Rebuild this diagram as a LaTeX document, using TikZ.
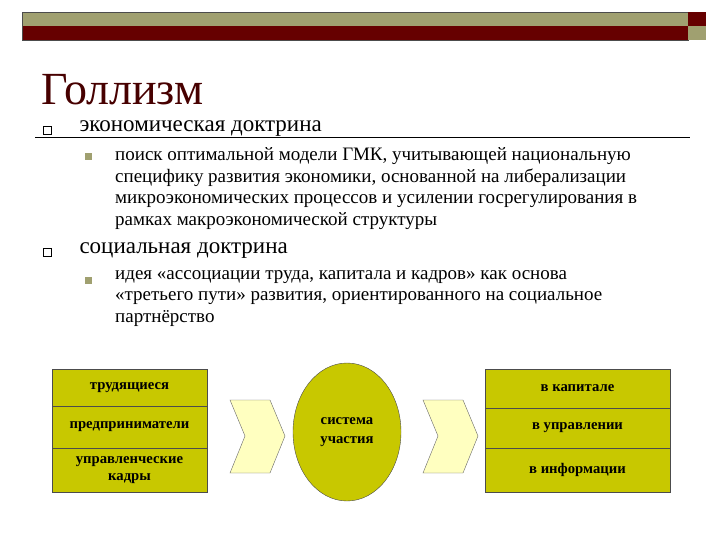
\documentclass[tikz,border=0pt]{standalone}
\usepackage{fontspec}
\usetikzlibrary{shapes.geometric}
\setmainfont{Liberation Serif}
\definecolor{band}{HTML}{A0A070}
\definecolor{dred}{HTML}{660000}
\definecolor{boxy}{HTML}{C8C800}
\definecolor{chev}{HTML}{FFFFC0}
\tikzset{
 cell/.style={draw=black!70,fill=boxy,minimum height=40pt,inner sep=0pt,font=\fontsize{14.7}{17}\selectfont\bfseries,align=center},
 lvl/.style={anchor=west,font=\fontsize{23}{25}\selectfont},
 sub/.style={anchor=north west,font=\fontsize{19}{21.8}\selectfont,align=left,inner sep=0pt},
 chevr/.style={draw=black!60,fill=chev}
}
\begin{document}
\begin{tikzpicture}[x=1pt,y=-1pt]
\useasboundingbox (0,0) rectangle (720,540);
\fill[band] (22,12) rectangle (688,26);
\fill[dred] (22,26) rectangle (688,40);
\draw[black!70] (22,12) rectangle (688,40);
\fill[dred] (688,12) rectangle (706,26);
\fill[band] (688,26) rectangle (706,40);
\node[anchor=west,text=dred!70!black,font=\fontsize{46}{50}\selectfont] (title) at (38,90) {Голлизм};
\node[draw,minimum size=8pt,inner sep=0pt,thick] (b1) at (47,130) {};
\node[lvl] (l1) at (76,129) {экономическая доктрина};
\draw (35,137) -- (690,137);
\node[fill=band,minimum size=7pt,inner sep=0pt] (s1) at (88,157) {};
\node[sub] (t1) at (115,147) {поиск оптимальной модели ГМК, учитывающей национальную\\специфику развития экономики, основанной на либерализации\\микроэкономических процессов и усилении госрегулирования в\\рамках макроэкономической структуры};
\node[draw,minimum size=8pt,inner sep=0pt,thick] (b2) at (47,252) {};
\node[lvl] (l2) at (76,251) {социальная доктрина};
\node[fill=band,minimum size=7pt,inner sep=0pt] (s2) at (88,280) {};
\node[sub] (t2) at (115,270) {идея «ассоциации труда, капитала и кадров» как основа\\«третьего пути» развития, ориентированного на социальное\\партнёрство};
% left boxes
\node[cell,minimum width=155pt,minimum height=37pt] (a1) at (129.5,387.5) {трудящиеся};
\node[cell,minimum width=155pt,minimum height=42pt] (a2) at (129.5,427) {предприниматели};
\node[cell,minimum width=155pt,minimum height=44pt] (a3) at (129.5,470) {управленческие\\кадры};
% chevrons
\draw[chevr] (230,400) -- (270,400) -- (285,436) -- (270,473) -- (230,473) -- (245,436) -- cycle;
\node[draw=black!70,fill=boxy,ellipse,minimum width=108pt,minimum height=138pt,inner sep=0pt,font=\fontsize{14.7}{19}\selectfont\bfseries,align=center] (c) at (347,432) {система\\участия};
\draw[chevr] (423,400) -- (463,400) -- (478,436) -- (463,473) -- (423,473) -- (438,436) -- cycle;
% right boxes
\node[cell,minimum width=185pt,minimum height=39pt] (r1) at (577.5,388.5) {в капитале};
\node[cell,minimum width=185pt,minimum height=40pt] (r2) at (577.5,428) {в управлении};
\node[cell,minimum width=185pt,minimum height=44pt] (r3) at (577.5,470) {в информации};
\end{tikzpicture}
\end{document}
